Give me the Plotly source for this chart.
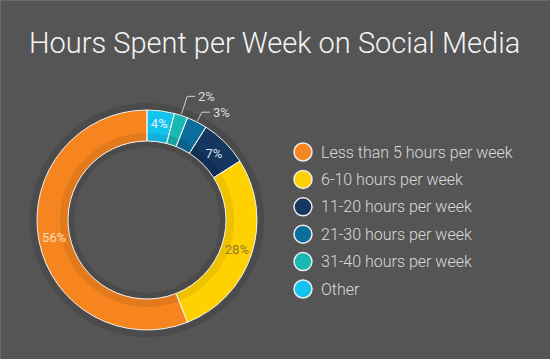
import math
import plotly.graph_objects as go

# ---------------- data ----------------
title_text = "Hours Spent per Week on Social Media"
categories = [
    "Less than 5 hours per week",
    "6-10 hours per week",
    "11-20 hours per week",
    "21-30 hours per week",
    "31-40 hours per week",
    "Other",
]
values = [56, 28, 7, 3, 2, 4]

# ---------------- styles ----------------
colors = ["#F6851F", "#FFD100", "#14365F", "#0A6D9B", "#17B9B0", "#12C3EE"]
band_colors = ["#E27A1C", "#EDC300", "#112F53", "#09618A", "#14A69E", "#10B0DA"]
label_colors = ["#FCDDBE", "#8E7A2E", "#D8E0EA", "#DDDDDD", "#DDDDDD", "#E6F6FC"]
outside = [False, False, False, True, True, False]
leader_len = [0, 0, 0, 11, 20, 0]

BG = "#555555"
W, H = 550, 359
cx, cy, R, R_in = 147, 220, 110, 79

# pie is drawn clockwise from 12 o'clock, starting with "Other"
pie_labels = categories[::-1]
pie_values = values[::-1]
pie_colors = colors[::-1]
pie_band = band_colors[::-1]
pie_label_colors = label_colors[::-1]
pie_textpos = ["none" if o else "inside" for o in outside[::-1]]


def dom(r):
    return dict(x=[(cx - r) / W, (cx + r) / W], y=[1 - (cy + r) / H, 1 - (cy - r) / H])


fig = go.Figure()

# shadow ring
fig.add_trace(go.Pie(
    values=[1], labels=["shadow"], domain=dom(R + 7), hole=(R_in - 6) / (R + 7),
    marker=dict(colors=["#4B4B4B"], line=dict(width=0)), textinfo="none",
    hoverinfo="skip", showlegend=False, sort=False,
))

common = dict(labels=pie_labels, values=pie_values, sort=False,
              direction="clockwise", rotation=0, showlegend=False)

# main ring
fig.add_trace(go.Pie(
    **common, domain=dom(R), hole=R_in / R,
    marker=dict(colors=pie_colors, line=dict(width=0)),
    textinfo="none",
))

# inner darker band (shading)
fig.add_trace(go.Pie(
    **common, domain=dom(R_in + 8), hole=R_in / (R_in + 8),
    marker=dict(colors=pie_band, line=dict(width=0)),
    textinfo="none", hoverinfo="skip",
))

# outline + percentage labels ring
fig.add_trace(go.Pie(
    **common, domain=dom(R), hole=R_in / R,
    marker=dict(colors=["rgba(0,0,0,0)"] * len(pie_values),
                line=dict(color="#F2F2F2", width=1)),
    texttemplate="%{percent:.0%}",
    textposition=pie_textpos,
    insidetextorientation="horizontal",
    textfont=dict(family="Roboto", size=13, color=pie_label_colors),
    hoverinfo="skip",
))

shapes = []
annotations = []

# outside labels with leader lines, computed from the data (clockwise from top)
total = sum(pie_values)
cum = 0
pie_outside = outside[::-1]
pie_leader = leader_len[::-1]
for i, v in enumerate(pie_values):
    ang = (cum + v / 2) / total * 2 * math.pi
    cum += v
    if not pie_outside[i]:
        continue
    sx, sy = cx + (R + 1) * math.sin(ang), cy - (R + 1) * math.cos(ang)
    rr = R + pie_leader[i]
    ex, ey = cx + rr * math.sin(ang), cy - rr * math.cos(ang)
    hx = ex + 8
    line_style = dict(color="#CFCFCF", width=1)
    shapes.append(dict(type="line", xref="paper", yref="paper",
                       x0=sx / W, y0=1 - sy / H, x1=ex / W, y1=1 - ey / H, line=line_style))
    shapes.append(dict(type="line", xref="paper", yref="paper",
                       x0=ex / W, y0=1 - ey / H, x1=hx / W, y1=1 - ey / H, line=line_style))
    annotations.append(dict(text=f"{v / total:.0%}", xref="paper", yref="paper",
                            x=(hx + 1) / W, y=1 - ey / H, xanchor="left", yanchor="middle",
                            showarrow=False,
                            font=dict(family="Roboto", size=13, color=pie_label_colors[i])))

# custom legend with circles
lx, ly0, dy, rad = 303, 152, 27.4, 9
for i, (c, name) in enumerate(zip(colors, categories)):
    y = ly0 + i * dy
    shapes.append(dict(type="circle", xref="paper", yref="paper",
                       x0=(lx - rad) / W, x1=(lx + rad) / W,
                       y0=1 - (y + rad) / H, y1=1 - (y - rad) / H,
                       fillcolor=c, line=dict(color="#EDEDED", width=1.5)))
    annotations.append(dict(text=name, xref="paper", yref="paper",
                            x=(lx + 16) / W, y=1 - y / H, xanchor="left", yanchor="middle",
                            showarrow=False,
                            font=dict(family="Roboto", size=16, color="#DADADA", weight=300)))

# title
annotations.append(dict(text=title_text, xref="paper", yref="paper",
                        x=274 / W, y=1 - 43 / H, xanchor="center", yanchor="middle",
                        showarrow=False,
                        font=dict(family="Roboto", size=29, color="#F4F4F4", weight=300)))

# thin lighter border on top and left
shapes.append(dict(type="line", xref="paper", yref="paper", x0=0, x1=1, y0=1, y1=1,
                   line=dict(color="#6A6A6A", width=2)))
shapes.append(dict(type="line", xref="paper", yref="paper", x0=0, x1=0, y0=0, y1=1,
                   line=dict(color="#6A6A6A", width=2)))

fig.update_layout(
    width=W, height=H,
    margin=dict(l=0, r=0, t=0, b=0),
    paper_bgcolor=BG, plot_bgcolor=BG,
    shapes=shapes, annotations=annotations,
    showlegend=False,
)

fig.write_html(
    "out.html",
    config={"displayModeBar": False},
    post_script="document.body.style.margin='0';document.body.style.overflow='hidden';",
)
